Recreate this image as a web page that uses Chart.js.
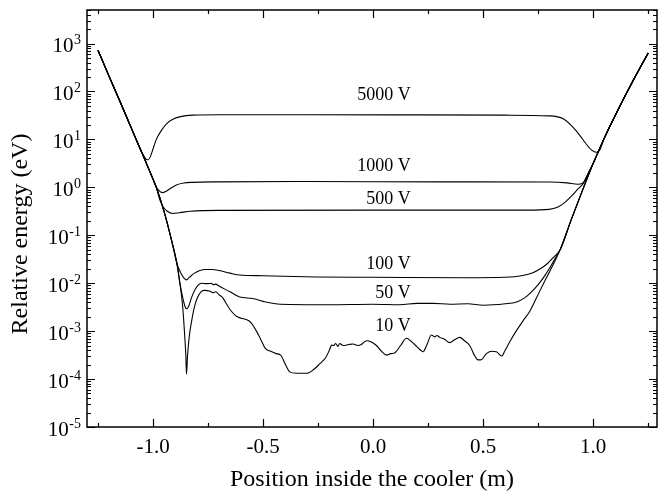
<!DOCTYPE html>
<html>
<head>
<meta charset="utf-8">
<script src="https://cdn.jsdelivr.net/npm/chart.js@4.4.0/dist/chart.umd.min.js"></script>
<style>
html, body { margin: 0; padding: 0; background: #fff; }
</style>
</head>
<body>
<canvas id="coolerChart" width="659" height="493"></canvas>
<script>
// Relative energy (eV) vs position (m), one curve per cooler voltage
const curveNames = ['5000 V', '1000 V', '500 V', '100 V', '50 V', '10 V'];

// shared steep walls at both ends of the cooler
const wallLeftTop = [[-1.25, 724], [-1.2, 209], [-1.15, 61.7], [-1.1, 17.8], [-1.06, 6.61]];
const wallLeftMid = [[-1.03, 3.16], [-1.0, 1.48]];
const wallLeftLow = [[-0.985, 1.0], [-0.95, 0.316], [-0.916, 0.0794], [-0.891, 0.0251]];
const wallRightLow = [[0.85, 0.0501], [0.9, 0.209], [0.95, 0.832]];
const wallRightTop = [[1.0, 3.16], [1.05, 10.5], [1.1, 31.6], [1.175, 148], [1.25, 631]];

const v5000 = [...wallLeftTop,
  [-1.045, 4.79], [-1.032, 3.89], [-1.022, 3.76], [-1.012, 4.37], [-1.0, 6.31], [-0.985, 10.0],
  [-0.96, 15.8], [-0.94, 20.9], [-0.91, 26.3], [-0.87, 30.2], [-0.82, 32.0], [-0.7, 32.7],
  [-0.3, 32.7], [0.2, 32.4], [0.6, 32.0], [0.8, 30.9], [0.864, 26.9], [0.909, 17.8],
  [0.94, 12.0], [0.962, 8.71], [0.992, 6.03], [1.015, 5.37], [1.03, 6.03],
  ...wallRightTop.slice(1)];

const v1000 = [...wallLeftTop, ...wallLeftMid,
  [-0.99, 1.12], [-0.975, 0.871], [-0.957, 0.776], [-0.94, 0.832], [-0.92, 0.955], [-0.894, 1.12],
  [-0.86, 1.23], [-0.82, 1.27], [-0.7, 1.30], [-0.3, 1.32], [0.3, 1.30], [0.8, 1.29],
  [0.88, 1.24], [0.93, 1.16], [0.95, 1.20], [0.96, 1.35], [0.975, 1.86],
  ...wallRightTop];

const v500 = [...wallLeftTop, ...wallLeftMid, [-0.985, 1.0],
  [-0.97, 0.562], [-0.955, 0.398], [-0.935, 0.316], [-0.91, 0.285], [-0.88, 0.295], [-0.83, 0.316],
  [-0.7, 0.331], [0.0, 0.335], [0.7, 0.335], [0.8, 0.347], [0.84, 0.389], [0.87, 0.479],
  [0.9, 0.646], [0.93, 0.912], [0.955, 1.20], [0.975, 1.86],
  ...wallRightTop];

const v100 = [...wallLeftTop, ...wallLeftMid, ...wallLeftLow,
  [-0.87, 0.0151], [-0.858, 0.0126], [-0.848, 0.0117], [-0.835, 0.0132], [-0.815, 0.0158],
  [-0.79, 0.0182], [-0.76, 0.0193], [-0.73, 0.0193], [-0.7, 0.0184], [-0.65, 0.0162],
  [-0.606, 0.0148], [-0.5, 0.0143], [-0.26, 0.0135], [0.0, 0.0133], [0.42, 0.0130],
  [0.6, 0.0133], [0.68, 0.0145], [0.726, 0.0166], [0.76, 0.0200], [0.79, 0.0251], [0.82, 0.0347],
  ...wallRightLow, ...wallRightTop];

const v50 = [...wallLeftTop, ...wallLeftMid, ...wallLeftLow,
  [-0.878, 0.0100], [-0.865, 0.00501], [-0.855, 0.00331], [-0.848, 0.00292], [-0.838, 0.00331],
  [-0.825, 0.00501], [-0.81, 0.00724], [-0.795, 0.00912], [-0.78, 0.0100], [-0.755, 0.00977],
  [-0.735, 0.0100], [-0.727, 0.00933], [-0.715, 0.00955], [-0.7, 0.00871], [-0.65, 0.00661],
  [-0.606, 0.00513], [-0.547, 0.00479], [-0.5, 0.00417], [-0.42, 0.00363], [-0.2, 0.00355],
  [0.0, 0.00363], [0.121, 0.00355], [0.2, 0.00380], [0.272, 0.00380], [0.35, 0.00363],
  [0.43, 0.00372], [0.5, 0.00347], [0.6, 0.00372], [0.652, 0.00407], [0.69, 0.00501],
  [0.72, 0.00661], [0.75, 0.00933], [0.775, 0.0132], [0.8, 0.0200], [0.825, 0.0316],
  ...wallRightLow, ...wallRightTop];

const v10 = [...wallLeftTop, ...wallLeftMid, ...wallLeftLow,
  [-0.879, 0.0110], [-0.865, 0.00316], [-0.856, 7.94e-4], [-0.851, 3.16e-4], [-0.848, 1.26e-4],
  [-0.843, 3.16e-4], [-0.835, 7.94e-4], [-0.825, 1.58e-3], [-0.812, 3.16e-3], [-0.8, 4.79e-3],
  [-0.78, 6.76e-3], [-0.765, 7.08e-3], [-0.74, 6.76e-3], [-0.727, 6.31e-3], [-0.715, 6.61e-3],
  [-0.7, 5.75e-3], [-0.682, 4.90e-3], [-0.667, 3.72e-3], [-0.645, 2.63e-3], [-0.621, 2.04e-3],
  [-0.6, 1.86e-3], [-0.576, 1.74e-3], [-0.555, 1.51e-3], [-0.53, 1.0e-3], [-0.51, 6.61e-4],
  [-0.49, 4.37e-4], [-0.465, 3.80e-4], [-0.44, 3.39e-4], [-0.42, 3.16e-4], [-0.4, 2.09e-4],
  [-0.379, 1.41e-4], [-0.35, 1.32e-4], [-0.3, 1.32e-4], [-0.27, 1.58e-4], [-0.242, 2.09e-4],
  [-0.215, 2.82e-4], [-0.197, 4.17e-4], [-0.189, 5.13e-4], [-0.18, 5.01e-4], [-0.17, 5.50e-4],
  [-0.16, 4.79e-4], [-0.152, 5.50e-4], [-0.136, 5.01e-4], [-0.11, 5.25e-4], [-0.091, 5.37e-4],
  [-0.07, 5.01e-4], [-0.053, 5.25e-4], [-0.03, 6.31e-4], [-0.01, 6.03e-4], [0.015, 5.01e-4],
  [0.04, 3.72e-4], [0.061, 3.16e-4], [0.08, 3.39e-4], [0.099, 3.55e-4], [0.125, 5.01e-4],
  [0.152, 7.08e-4], [0.17, 6.31e-4], [0.2, 4.68e-4], [0.227, 3.72e-4], [0.245, 5.25e-4],
  [0.265, 8.32e-4], [0.28, 7.59e-4], [0.29, 8.13e-4], [0.303, 7.41e-4], [0.325, 6.76e-4],
  [0.348, 5.75e-4], [0.37, 6.61e-4], [0.394, 7.41e-4], [0.415, 6.31e-4], [0.439, 5.01e-4],
  [0.46, 3.16e-4], [0.477, 2.51e-4], [0.49, 2.51e-4], [0.515, 3.39e-4], [0.54, 3.80e-4],
  [0.56, 3.72e-4], [0.584, 3.02e-4], [0.6, 3.98e-4], [0.621, 6.03e-4], [0.65, 1.0e-3],
  [0.682, 1.66e-3], [0.71, 2.51e-3], [0.743, 5.01e-3], [0.775, 0.0100], [0.803, 0.0178],
  [0.83, 0.0316],
  ...wallRightLow, ...wallRightTop];

const seriesValues = [v5000, v1000, v500, v100, v50, v10];

// axis ticks
const xMajorTicks = [-1.0, -0.5, 0.0, 0.5, 1.0];
const xMinorTicks = [-1.25, -0.75, -0.25, 0.25, 0.75, 1.25];
const xTickLabels = ['-1.0', '-0.5', '0.0', '0.5', '1.0'];
const yDecades = [-5, -4, -3, -2, -1, 0, 1, 2, 3];

// where the curve names sit (x in m, y in eV), right aligned
const labelX = 0.171;
const labelY = [83.4, 2.75, 0.564, 0.0248, 0.00626, 0.00128];

const SERIF = '"Liberation Serif", "Times New Roman", serif';

const frameAndText = {
  id: 'frameAndText',
  afterDraw(chart) {
    const ctx = chart.ctx;
    const a = chart.chartArea;
    const xs = chart.scales.x;
    const ys = chart.scales.y;
    ctx.save();
    ctx.strokeStyle = '#000';
    ctx.fillStyle = '#000';
    ctx.lineWidth = 1.5;
    ctx.strokeRect(a.left, a.top, a.right - a.left, a.bottom - a.top);

    ctx.lineWidth = 1.2;
    ctx.beginPath();
    const xTick = (v, len) => {
      const px = Math.round(xs.getPixelForValue(v)) + 0.5;
      ctx.moveTo(px, a.bottom); ctx.lineTo(px, a.bottom - len);
      ctx.moveTo(px, a.top); ctx.lineTo(px, a.top + len);
    };
    xMajorTicks.forEach(v => xTick(v, 8));
    xMinorTicks.forEach(v => xTick(v, 4));
    const yTick = (v, len) => {
      const py = Math.round(ys.getPixelForValue(v)) + 0.5;
      ctx.moveTo(a.left, py); ctx.lineTo(a.left + len, py);
      ctx.moveTo(a.right, py); ctx.lineTo(a.right - len, py);
    };
    yDecades.forEach(d => {
      yTick(Math.pow(10, d), 8);
      for (let m = 2; m <= 9; m++) {
        const v = m * Math.pow(10, d);
        if (v <= ys.max) yTick(v, 4);
      }
    });
    ctx.stroke();

    // x tick labels
    ctx.font = '21px ' + SERIF;
    ctx.textAlign = 'center';
    ctx.textBaseline = 'alphabetic';
    xMajorTicks.forEach((v, i) => {
      ctx.fillText(xTickLabels[i], xs.getPixelForValue(v), 453);
    });

    // y tick labels as 10 with superscript
    yDecades.forEach(d => {
      const py = ys.getPixelForValue(Math.pow(10, d));
      const sup = String(d);
      ctx.font = '14px ' + SERIF;
      ctx.textAlign = 'right';
      const supW = ctx.measureText(sup).width;
      ctx.fillText(sup, 81, py + 0.5);
      ctx.font = '21px ' + SERIF;
      ctx.fillText('10', 81 - supW - 0.5, py + 8.5);
    });

    // axis titles
    ctx.font = '24px ' + SERIF;
    ctx.textAlign = 'center';
    ctx.fillText('Position inside the cooler (m)', (a.left + a.right) / 2, 486);
    ctx.save();
    ctx.translate(27, 234);
    ctx.rotate(-Math.PI / 2);
    ctx.fillText('Relative energy (eV)', 0, 0);
    ctx.restore();

    // curve names
    ctx.font = '18px ' + SERIF;
    ctx.textAlign = 'right';
    ctx.textBaseline = 'middle';
    curveNames.forEach((name, i) => {
      ctx.fillText(name, xs.getPixelForValue(labelX), ys.getPixelForValue(labelY[i]));
    });
    ctx.restore();
  }
};

new Chart(document.getElementById('coolerChart').getContext('2d'), {
  type: 'line',
  data: {
    datasets: seriesValues.map((pts, i) => ({
      label: curveNames[i],
      data: pts.map(p => ({ x: p[0], y: p[1] })),
      borderColor: '#000',
      borderWidth: 1.1,
      pointRadius: 0,
      fill: false,
      cubicInterpolationMode: 'monotone'
    }))
  },
  options: {
    responsive: false,
    animation: false,
    events: [],
    layout: { padding: { left: 87, right: 2, top: 10, bottom: 66 } },
    plugins: { legend: { display: false }, tooltip: { enabled: false } },
    scales: {
      x: { type: 'linear', min: -1.3, max: 1.29, display: false },
      y: { type: 'logarithmic', min: 1e-5, max: 5000, display: false }
    }
  },
  plugins: [frameAndText]
});
</script>
</body>
</html>
